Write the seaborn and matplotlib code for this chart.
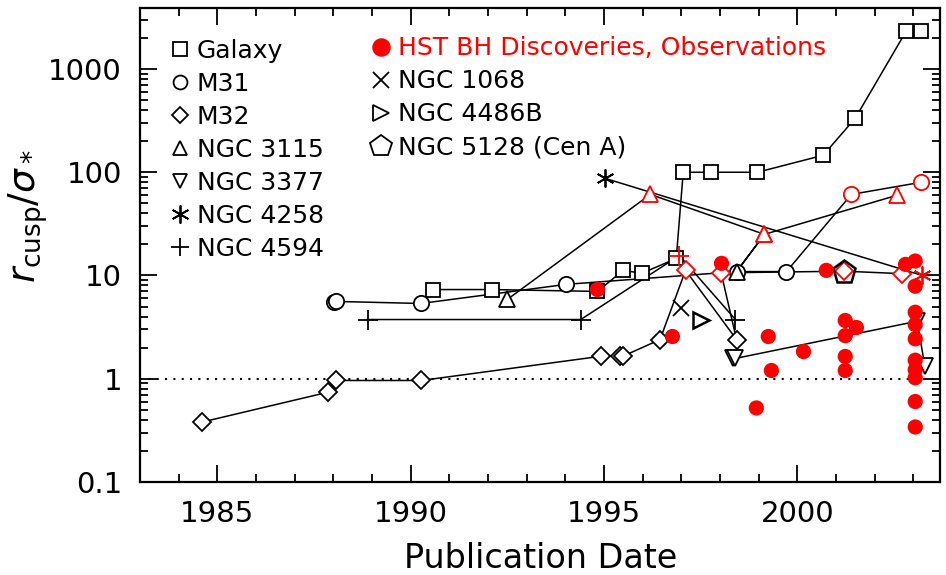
import numpy as np
import matplotlib
matplotlib.use("Agg")
import matplotlib.pyplot as plt
from matplotlib.lines import Line2D
import seaborn as sns

# ---- data ----
# each series: dates, values, edge colour per point ('k' = ground based, 'r' = HST)
galaxy_x = [1990.58, 1992.10, 1994.83, 1995.50, 1995.98, 1996.87, 1997.05, 1997.78, 1998.97, 2000.67, 2001.50, 2002.82, 2003.21]
galaxy_y = [7.3, 7.3, 7.0, 11.2, 10.5, 14.6, 100, 100, 100, 146, 334, 2340, 2340]
galaxy_c = ['k'] * 13

m31_x = [1988.01, 1988.08, 1990.26, 1994.03, 1998.43, 1999.72, 2001.40, 2003.21]
m31_y = [5.47, 5.6, 5.35, 8.2, 10.9, 10.9, 61, 80]
m31_c = ['k', 'k', 'k', 'k', 'k', 'k', 'r', 'r']

m32_x = [1984.61, 1987.87, 1988.06, 1990.28, 1994.93, 1995.42, 1995.49, 1996.45, 1997.11, 1998.43, 1998.03, 2001.22, 2002.72]
m32_y = [0.38, 0.74, 0.96, 0.96, 1.65, 1.65, 1.65, 2.39, 11.2, 2.39, 10.6, 11.0, 10.4]
m32_c = ['k'] * 8 + ['r', 'k', 'r', 'r', 'r']

n3115_x = [1992.50, 1996.20, 1999.15, 1998.43, 1999.15, 2002.59]
n3115_y = [5.85, 61, 25, 10.9, 25, 60]
n3115_c = ['k', 'r', 'r', 'k', 'r', 'r']

n3377_x = [1998.33, 1998.40, 2003.10, 2003.30]
n3377_y = [1.60, 1.57, 3.6, 1.32]
n3377_c = ['k'] * 4

n4258_x = [1995.02, 2003.23]
n4258_y = [87.5, 10.0]
n4258_c = ['k', 'r']

n4594_x = [1988.89, 1994.40, 1996.95, 1998.40]
n4594_y = [3.74, 3.74, 15.6, 3.74]
n4594_c = ['k', 'k', 'r', 'k']

n1068_x = [1997.00]
n1068_y = [4.89]
n4486b_x = [1997.52]
n4486b_y = [3.74]
n5128_x = [2001.22]
n5128_y = [10.9]

hst_x = [1994.83, 1996.77, 1998.04, 1999.25, 2000.16, 1999.33, 1998.94, 2000.75,
         2001.24, 2001.53, 2001.24, 2001.24, 2001.24,
         2002.80, 2003.05, 2003.05, 2003.05, 2003.05, 2003.05, 2003.05, 2003.05,
         2003.05, 2003.05, 2003.05]
hst_y = [7.3, 2.56, 13.1, 2.56, 1.83, 1.20, 0.52, 11.2,
         3.66, 3.13, 2.61, 1.64, 1.20,
         12.8, 13.8, 7.87, 4.40, 3.34, 2.43, 1.51, 1.22, 1.02, 0.60, 0.34]

xticks = [1985, 1990, 1995, 2000]
yticks = [0.1, 1, 10, 100, 1000]
ytick_labels = ['0.1', '1', '10', '100', '1000']

sns.set_style("ticks")
plt.rcParams['font.family'] = ['DejaVu Sans']
plt.rcParams['mathtext.fontset'] = 'dejavusans'
plt.rcParams['text.color'] = 'black'
plt.rcParams['axes.labelcolor'] = 'black'
plt.rcParams['xtick.color'] = 'black'
plt.rcParams['ytick.color'] = 'black'

fig = plt.figure(figsize=(9.46, 5.75), dpi=100)
ax = fig.add_axes([0.148, 0.162, 0.846, 0.824])
ax.set_yscale('log')
ax.set_xlim(1983, 2003.7)
ax.set_ylim(0.1, 3900)

ax.axhline(1, ls=(0, (1, 3)), color='k', lw=1.5, zorder=1)

lw = 1.1
mew = 1.3
series = [
    (galaxy_x, galaxy_y, galaxy_c, 's', 10),
    (m31_x, m31_y, m31_c, 'o', 11),
    (m32_x, m32_y, m32_c, 'D', 9),
    (n3115_x, n3115_y, n3115_c, '^', 11),
    (n3377_x, n3377_y, n3377_c, 'v', 11),
    (n4258_x, n4258_y, n4258_c, (6, 2, 0), 13),
    (n4594_x, n4594_y, n4594_c, '+', 14),
]
for xs, ys, cs, mk, ms in series:
    sns.lineplot(x=xs, y=ys, ax=ax, sort=False, estimator=None, color='k', lw=lw, zorder=2)
    for xv, yv, cv in zip(xs, ys, cs):
        col = 'red' if cv == 'r' else 'black'
        ax.plot(xv, yv, marker=mk, ms=ms, mfc='white', mec=col, mew=mew, ls='none', zorder=3)

ax.plot(n1068_x, n1068_y, marker='x', ms=12, mec='k', mew=mew, ls='none', zorder=3)
ax.plot(n4486b_x, n4486b_y, marker='>', ms=12, mfc='white', mec='k', mew=1.8, ls='none', zorder=3)
ax.plot(n5128_x, n5128_y, marker='p', ms=17, mfc='none', mec='k', mew=1.8, ls='none', zorder=4)

sns.scatterplot(x=hst_x, y=hst_y, ax=ax, color='red', s=120, edgecolor='none', zorder=5)

ax.set_xticks(xticks)
ax.set_xticks(np.arange(1983, 2004), minor=True)
ax.set_yticks(yticks)
ax.set_yticklabels(ytick_labels)
ax.tick_params(which='both', direction='in', top=True, right=True, labelsize=21, width=1.3)
ax.tick_params(which='major', length=12, pad=13)
ax.tick_params(which='minor', length=6)
for sp in ax.spines.values():
    sp.set_linewidth(1.6)
    sp.set_color('black')

ax.set_xlabel('Publication Date', fontsize=24, labelpad=10)
ax.set_ylabel(r'$r_{\rm cusp}/\sigma_*$', fontsize=27)
ax.yaxis.set_label_coords(-0.112, 0.56)

# legends
def h(mk, col='k', ms=10, mfc='white'):
    return Line2D([], [], marker=mk, ls='none', ms=ms, mfc=mfc, mec=col, mew=mew, color=col)

left_handles = [h('s'), h('o'), h('D', ms=8), h('^'), h('v'), h((6, 2, 0), ms=13), h('+', ms=13)]
left_labels = ['Galaxy', 'M31', 'M32', 'NGC 3115', 'NGC 3377', 'NGC 4258', 'NGC 4594']
leg1 = ax.legend(left_handles, left_labels, loc='upper left', bbox_to_anchor=(0.016, 0.972),
                 frameon=False, fontsize=18, handlelength=0.75, handletextpad=0.3,
                 labelspacing=0.36, borderpad=0.2)
ax.add_artist(leg1)

right_handles = [h('o', col='red', ms=12, mfc='red'), h('x', ms=12), h('>', ms=12), h('p', ms=16)]
right_labels = ['HST BH Discoveries, Observations', 'NGC 1068', 'NGC 4486B', 'NGC 5128 (Cen A)']
leg2 = ax.legend(right_handles, right_labels, loc='upper left', bbox_to_anchor=(0.268, 0.977),
                 frameon=False, fontsize=18, handlelength=0.75, handletextpad=0.3,
                 labelspacing=0.36, borderpad=0.2)
leg2.get_texts()[0].set_color('red')

fig.savefig('out.png', dpi=100)
